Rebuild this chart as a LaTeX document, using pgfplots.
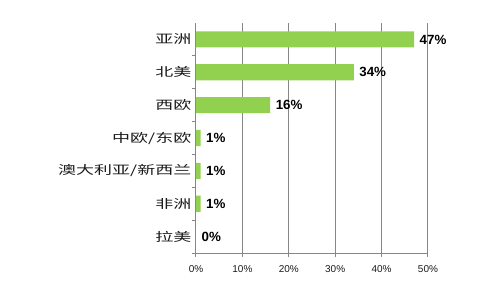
\documentclass[border=0pt]{standalone}
\usepackage{graphicx}
\usepackage{fontspec}
\setmainfont{Liberation Sans}
\newfontfamily\cjk{Noto Sans CJK SC}
\usepackage{pgfplots}
\pgfplotsset{compat=1.18}

\definecolor{barGreen}{HTML}{92D050}
\definecolor{axisGray}{HTML}{868686}
\definecolor{labelBlack}{HTML}{1A1A1A}

% wide CJK category labels
\newcommand\lbl[1]{\scalebox{1.5}[1]{\cjk #1}}

\begin{document}
\begin{tikzpicture}
\begin{axis}[
  at={(0,0)}, anchor=south west,
  scale only axis, width=174pt, height=172.5pt,
  xbar, bar width=0.49,
  xmin=0, xmax=50,
  ymin=-0.5, ymax=6.5, y dir=reverse,
  axis lines*=left,
  axis line style={draw=axisGray, line width=0.75pt},
  xmajorgrids,
  grid style={draw=axisGray, line width=0.75pt},
  xtick={0,10,...,50},
  xticklabel={\pgfmathprintnumber{\tick}\%},
  /pgf/number format/assume math mode=true,
  xticklabel style={font=\fontsize{7.5}{9}\selectfont, text=labelBlack, yshift=-3pt},
  tick align=outside,
  major tick length=3pt,
  tick style={draw=axisGray, line width=0.75pt},
  % ticks sit on the category boundaries; each label is lifted to its band centre
  ytick={0.5,1.5,...,6.5},
  yticklabels={\lbl{亚洲},\lbl{北美},\lbl{西欧},\lbl{中欧/东欧},\lbl{澳大利亚/新西兰},\lbl{非洲},\lbl{拉美}},
  yticklabel style={font=\fontsize{9}{11}\selectfont, text=labelBlack, yshift=12.32pt, xshift=3pt},
  point meta=x,
  nodes near coords={\pgfmathprintnumber{\pgfplotspointmeta}\%},
  nodes near coords style={font=\bfseries\fontsize{10}{12}\selectfont, text=black, anchor=west, inner sep=0pt, xshift=4pt},
]
\addplot[fill=barGreen, draw=none] coordinates {
  (47,0) (34,1) (16,2) (1,3) (1,4) (1,5) (0,6)
};
\end{axis}
\path (-147pt,-24.75pt) rectangle (228pt,189.75pt);
\end{tikzpicture}
\end{document}
